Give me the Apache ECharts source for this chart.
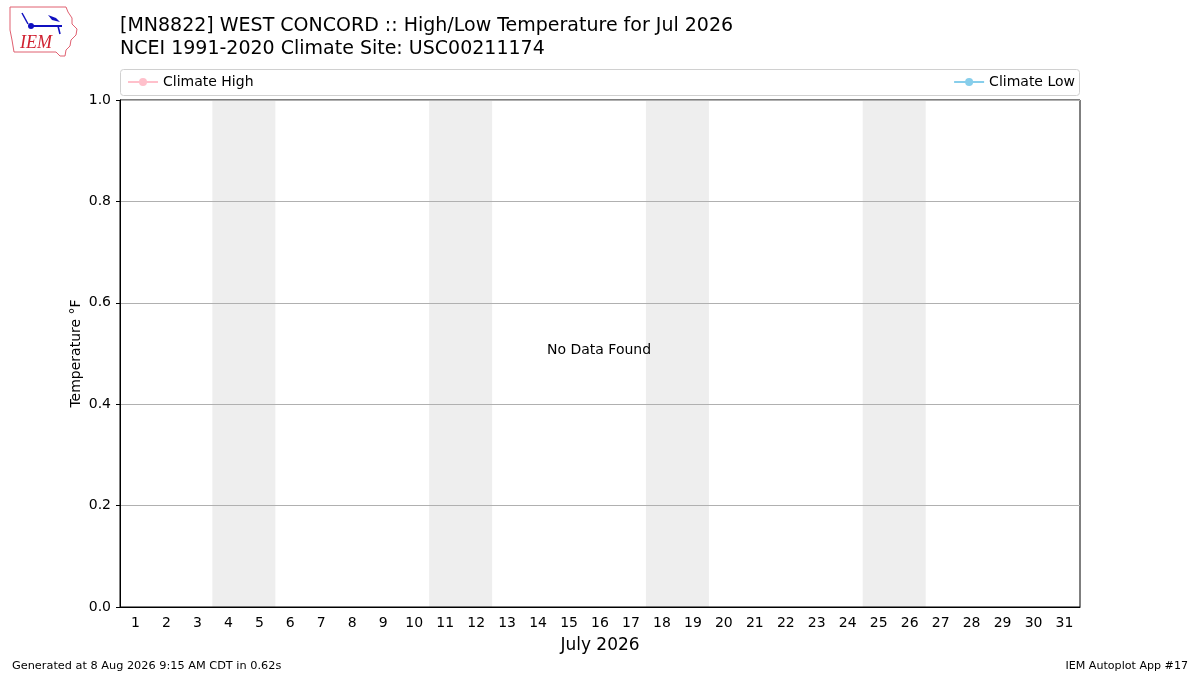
<!DOCTYPE html>
<html>
<head>
<meta charset="utf-8">
<script src="https://cdn.jsdelivr.net/npm/echarts@6/dist/echarts.min.js"></script>
<style>
  html, body { margin: 0; padding: 0; background: #fff; }
  #chart { width: 1200px; height: 675px; }
</style>
</head>
<body>
<div id="chart"></div>
<script>
// days of July 2026
const days = []
for (let d = 1; d <= 31; d++) days.push(String(d))

// weekend shading (Sat/Sun), 1 = shaded
const weekendDays = [4, 5, 11, 12, 18, 19, 25, 26]
const weekendBand = days.map(d => (weekendDays.indexOf(+d) >= 0 ? 1 : '-'))

// no observations were found, climate series are empty
const climateHigh = []
const climateLow = []

const font = 'DejaVu Sans'

const chart = echarts.init(document.getElementById('chart'))

chart.setOption({
  animation: false,
  backgroundColor: '#fff',
  textStyle: { fontFamily: font },
  title: {
    text: '[MN8822] WEST CONCORD :: High/Low Temperature for Jul 2026\nNCEI 1991-2020 Climate Site: USC00211174',
    left: 115,
    top: 10,
    textStyle: { fontFamily: font, fontSize: 19, fontWeight: 'normal', color: '#000', lineHeight: 23 }
  },
  legend: [
    {
      data: ['Climate High'],
      left: 122,
      top: 70,
      itemWidth: 30,
      itemHeight: 10,
      itemGap: 8,
      textStyle: { fontFamily: font, fontSize: 14, color: '#000' }
    },
    {
      data: ['Climate Low'],
      right: 120,
      top: 70,
      itemWidth: 30,
      itemHeight: 10,
      textStyle: { fontFamily: font, fontSize: 14, color: '#000' }
    }
  ],
  grid: {
    left: 120,
    right: 120,
    top: 100,
    bottom: 68,
    show: true,
    borderColor: '#000',
    borderWidth: 1
  },
  xAxis: {
    type: 'category',
    data: days,
    boundaryGap: true,
    name: 'July 2026',
    nameLocation: 'middle',
    nameGap: 30,
    nameTextStyle: { fontFamily: font, fontSize: 17, color: '#000' },
    axisLine: { lineStyle: { color: '#000' } },
    axisTick: { alignWithLabel: true, length: 4, lineStyle: { color: '#000' } },
    axisLabel: { fontFamily: font, fontSize: 14, color: '#000', margin: 9 },
    splitLine: { show: false }
  },
  yAxis: {
    type: 'value',
    min: 0,
    max: 1,
    interval: 0.2,
    name: 'Temperature °F',
    nameLocation: 'middle',
    nameGap: 37,
    nameMoveOverlap: false,
    nameTextStyle: { fontFamily: font, fontSize: 14, color: '#000' },
    axisLine: { show: true, lineStyle: { color: '#000' } },
    axisTick: { show: true, length: 4, lineStyle: { color: '#000' } },
    axisLabel: {
      fontFamily: font, fontSize: 14, color: '#000', margin: 9,
      formatter: v => v.toFixed(1)
    },
    splitLine: { show: true, lineStyle: { color: '#b0b0b0', width: 1 } }
  },
  graphic: [
    {
      type: 'rect',
      shape: { x: 120.5, y: 69.5, width: 959, height: 26, r: 3 },
      style: { fill: 'none', stroke: '#d0d0d0', lineWidth: 1 },
      z: -10
    },
    {
      type: 'text',
      left: 547,
      top: 343,
      style: { text: 'No Data Found', fontFamily: font, fontSize: 14, fill: '#000' }
    },
    {
      type: 'text',
      left: 12,
      top: 661,
      style: { text: 'Generated at 8 Aug 2026 9:15 AM CDT in 0.62s', fontFamily: font, fontSize: 11.3, fill: '#000' }
    },
    {
      type: 'text',
      right: 12,
      top: 661,
      style: { text: 'IEM Autoplot App #17', fontFamily: font, fontSize: 11.1, fill: '#000' }
    },
    // IEM logo: state outline + mark
    {
      type: 'polyline',
      shape: {
        points: [[10, 7], [66, 7], [68, 12], [72, 18], [72, 24], [77, 29], [76, 35], [71, 40], [70, 46], [66, 50], [65, 56], [60, 56], [56, 52], [14, 52], [12, 40], [10, 30], [10, 7]]
      },
      style: { fill: 'none', stroke: '#e06070', lineWidth: 1 }
    },
    {
      type: 'line',
      shape: { x1: 30, y1: 26, x2: 62, y2: 26 },
      style: { stroke: '#1010c0', lineWidth: 2 }
    },
    {
      type: 'circle',
      shape: { cx: 31, cy: 26, r: 3 },
      style: { fill: '#1010c0' }
    },
    {
      type: 'line',
      shape: { x1: 22, y1: 13, x2: 28, y2: 24 },
      style: { stroke: '#1010c0', lineWidth: 1.5 }
    },
    {
      type: 'polygon',
      shape: { points: [[48, 15], [56, 18], [60, 22], [52, 20]] },
      style: { fill: '#1010c0' }
    },
    {
      type: 'line',
      shape: { x1: 58, y1: 26, x2: 60, y2: 34 },
      style: { stroke: '#1010c0', lineWidth: 1.5 }
    },
    {
      type: 'text',
      left: 20,
      top: 34,
      style: { text: 'IEM', fontFamily: 'Liberation Serif', fontStyle: 'italic', fontSize: 18, fill: '#d02030' }
    }
  ],
  series: [
    {
      name: 'weekend',
      type: 'bar',
      data: weekendBand,
      barWidth: 32,
      itemStyle: { color: '#eeeeee' },
      silent: true,
      z: -1
    },
    {
      name: 'Climate High',
      type: 'line',
      data: climateHigh,
      symbol: 'circle',
      symbolSize: 8,
      itemStyle: { color: 'pink' },
      lineStyle: { color: 'pink', width: 1.5 }
    },
    {
      name: 'Climate Low',
      type: 'line',
      data: climateLow,
      symbol: 'circle',
      symbolSize: 8,
      itemStyle: { color: 'skyblue' },
      lineStyle: { color: 'skyblue', width: 1.5 }
    }
  ]
})
</script>
</body>
</html>
